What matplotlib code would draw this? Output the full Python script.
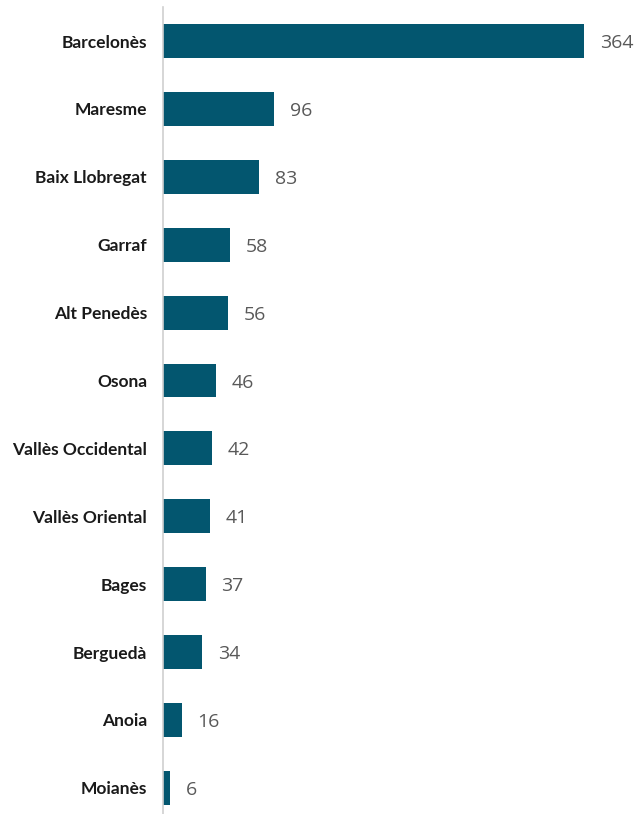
import matplotlib.pyplot as plt

comarques = ["Barcelonès", "Maresme", "Baix Llobregat", "Garraf", "Alt Penedès",
             "Osona", "Vallès Occidental", "Vallès Oriental", "Bages", "Berguedà",
             "Anoia", "Moianès"]
valors = [364, 96, 83, 58, 56, 46, 42, 41, 37, 34, 16, 6]

W, H = 642, 814
fig = plt.figure(figsize=(W / 100, H / 100), dpi=100)
# axis line at x=163px, bar centres from y=41 with 67.9px step
step = 67.9
top = 41 - step / 2
bottom = top + step * len(comarques)
ax = fig.add_axes([163 / W, 1 - bottom / H, (W - 163) / W, (bottom - top) / H])

ypos = range(len(comarques))
ax.barh(ypos, valors, height=0.5, color="#03566F")
ax.set_ylim(len(comarques) - 0.5, -0.5)
ax.set_xlim(0, (W - 163) / (421 / 364))

for y, v in zip(ypos, valors):
    ax.text(v + 13.5, y + 0.03, str(v), va="center", ha="left", fontsize=14,
            color="#595959", family="Open Sans")

ax.set_yticks(list(ypos))
ax.set_yticklabels(comarques, fontsize=12.5, fontweight="bold", family="Lato",
                   color="#1a1a1a")
ax.tick_params(axis="y", length=0, pad=11.5)
ax.set_xticks([])
for s in ["top", "right", "bottom"]:
    ax.spines[s].set_visible(False)
ax.spines["left"].set_color("#D0D0D0")
ax.spines["left"].set_linewidth(1.2)

fig.savefig("out.png", dpi=100)
